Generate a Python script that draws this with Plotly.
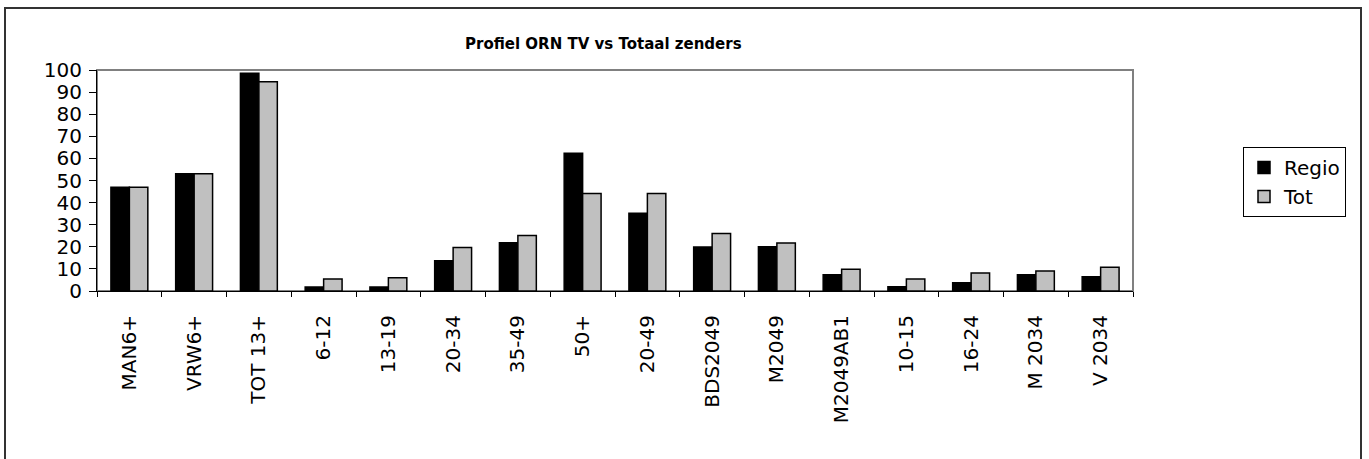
import plotly.graph_objects as go

categories = ["MAN6+", "VRW6+", "TOT 13+", "6-12", "13-19", "20-34", "35-49", "50+",
              "20-49", "BDS2049", "M2049", "M2049AB1", "10-15", "16-24", "M 2034", "V 2034"]
regio = [47.0, 53.1, 98.5, 1.8, 1.8, 13.7, 21.8, 62.3, 35.2, 19.9, 20.0, 7.4, 1.9, 3.7, 7.4, 6.5]
tot = [47.0, 53.0, 94.7, 5.4, 6.0, 19.7, 25.1, 44.1, 44.1, 26.0, 21.7, 9.8, 5.4, 8.1, 9.0, 10.7]
y_ticks = list(range(0, 101, 10))

W, H = 1369, 459
L, R, T, B = 97, 1133, 70, 291


def px(x):
    return (x - L) / (R - L)


def py(y):
    return (B - y) / (B - T)


fig = go.Figure()
fig.add_trace(go.Bar(x=categories, y=regio, name="Regio",
                     marker=dict(color="#000000", line=dict(color="#000000", width=1.5))))
fig.add_trace(go.Bar(x=categories, y=tot, name="Tot",
                     marker=dict(color="#C0C0C0", line=dict(color="#000000", width=1.5))))

fig.update_layout(
    width=W, height=H,
    margin=dict(l=L, r=W - R, t=T, b=H - B),
    paper_bgcolor="white", plot_bgcolor="white",
    barmode="group", bargap=0.43, bargroupgap=0,
    font=dict(family="DejaVu Sans", color="black"),
    showlegend=True,
    legend=dict(x=px(1243), y=py(147), xanchor="left", yanchor="top",
                bordercolor="black", borderwidth=1, bgcolor="white",
                font=dict(size=20, family="DejaVu Sans"), tracegroupgap=0),
    xaxis=dict(type="category", showline=True, linecolor="black", linewidth=1,
               ticks="outside", ticklen=5, tickcolor="black", tickson="boundaries",
               tickangle=-90, tickfont=dict(size=20, family="DejaVu Sans"),
               ticklabelstandoff=15,
               showgrid=False, zeroline=False),
    yaxis=dict(range=[0, 100], tickvals=y_ticks, showline=True, linecolor="black", linewidth=1,
               ticks="outside", ticklen=7, tickcolor="black",
               tickfont=dict(size=20, family="DejaVu Sans"),
               ticklabelstandoff=3,
               showgrid=False, zeroline=False),
    shapes=[
        dict(type="rect", xref="paper", yref="paper", x0=0, x1=1, y0=0, y1=1,
             line=dict(color="#808080", width=2), layer="below"),
        dict(type="rect", xref="paper", yref="paper", x0=px(5), x1=px(1361), y0=py(470), y1=py(8),
             line=dict(color="#333333", width=2)),
    ],
    annotations=[
        dict(text="<b>Profiel ORN TV vs Totaal zenders</b>", xref="paper", yref="paper",
             x=px(603), y=py(43.5), xanchor="center", yanchor="middle", showarrow=False,
             font=dict(size=15, family="DejaVu Sans", color="black")),
    ],
)

fig.write_html("out.html", config={"displayModeBar": False},
               post_script="document.body.style.margin='0';document.body.style.overflow='hidden';")
